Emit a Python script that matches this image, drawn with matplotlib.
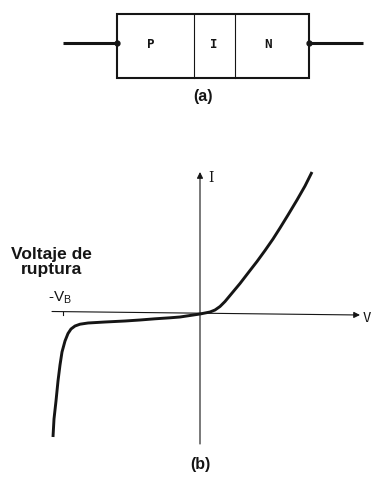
import matplotlib
matplotlib.use("Agg")
import matplotlib.pyplot as plt
from matplotlib.patches import Rectangle

# ---- data: I-V characteristic of the PIN diode (arbitrary units) ----
v_rev = [0.0, -1.0, -2.0, -3.0, -4.5, -6.0, -7.5, -9.5, -11.2, -12.0, -12.5, -12.9, -13.2,
         -13.5, -13.8, -14.0, -14.2, -14.4, -14.6, -14.7]
i_rev = [0.0, -0.15, -0.3, -0.38, -0.48, -0.6, -0.7, -0.8, -0.9, -1.02, -1.2, -1.5, -1.95,
         -2.7, -3.8, -5.1, -6.7, -8.7, -10.5, -12.3]
v_fwd = [0.0, 0.5, 1.0, 1.5, 2.0, 2.5, 3.0, 4.0, 5.0, 5.7, 6.5, 7.3, 8.0, 8.8, 9.7,
         10.5, 11.2]
i_fwd = [0.0, 0.1, 0.2, 0.4, 0.75, 1.25, 1.85, 3.05, 4.35, 5.25, 6.35, 7.5, 8.6, 9.9, 11.4,
         12.8, 14.2]

regions = ["P", "I", "N"]
axis_labels = ["V", "I"]
vb_label = "-V$_\\mathregular{B}$"
annot = "Voltaje de\nruptura"
captions = ["(a)", "(b)"]

INK = "#151515"

fig = plt.figure(figsize=(3.72, 4.81), dpi=100)
fig.patch.set_facecolor("white")

# overlay axes in pixel coordinates for the schematic and captions
axp = fig.add_axes([0, 0, 1, 1])
axp.set_xlim(0, 372)
axp.set_ylim(481, 0)
axp.axis("off")

# PIN box
axp.add_patch(Rectangle((117, 15), 192, 64, fill=False, ec=INK, lw=1.5))
axp.plot([194, 194], [15, 79], color=INK, lw=0.8)
axp.plot([235, 235], [15, 79], color=INK, lw=0.8)
axp.plot([63, 117], [44, 44], color=INK, lw=2.2, solid_capstyle="butt")
axp.plot([309, 363], [44, 44], color=INK, lw=2.2, solid_capstyle="butt")
axp.plot([117, 309], [44, 44], ls="none", marker="o", ms=3.5, color=INK)
for x, t in zip([151, 214, 268], regions):
    axp.text(x, 45, t, ha="center", va="center", fontsize=9, fontweight="bold",
             family="DejaVu Sans Mono", color=INK)

axp.text(203, 97, captions[0], ha="center", va="center", fontsize=11.5,
         fontweight="bold", family="Liberation Sans", color=INK)
axp.text(200, 465, captions[1], ha="center", va="center", fontsize=11.5,
         fontweight="bold", family="Liberation Sans", color=INK)
axp.text(51, 262, annot, ha="center", va="center", fontsize=12.5,
         fontweight="bold", family="Liberation Sans", color=INK,
         linespacing=1.05)

# I-V axes
ax = fig.add_axes([40 / 372, (481 - 450) / 481, 332 / 372, 285 / 481])
ax.set_xlim(-16, 17.2)
ax.set_ylim(-13.5, 15)
ax.axis("off")

ap = dict(arrowstyle="-|>", color=INK, lw=0.8, mutation_scale=9,
          shrinkA=0, shrinkB=0)
ax.annotate("", xy=(16.0, -0.1), xytext=(-14.8, 0.25), arrowprops=ap)
ax.annotate("", xy=(0.0, 14.2), xytext=(0.0, -13.0), arrowprops=ap)
ax.plot([-13.7, -13.7], [0.25, -0.1], color=INK, lw=0.8)

ax.plot(v_rev, i_rev, color=INK, lw=2.1, solid_capstyle="butt", solid_joinstyle="round")
ax.plot(v_fwd, i_fwd, color=INK, lw=2.1, solid_capstyle="butt", solid_joinstyle="round")

ax.text(16.3, -0.3, axis_labels[0], ha="left", va="center", fontsize=10,
        family="DejaVu Sans Mono", color=INK)
ax.text(0.8, 13.7, axis_labels[1], ha="left", va="center", fontsize=10,
        family="DejaVu Serif", color=INK)
ax.text(-14.0, 1.7, vb_label, ha="center", va="center", fontsize=11,
        family="Liberation Sans", color=INK)

fig.savefig("out.png", dpi=100, facecolor="white")
